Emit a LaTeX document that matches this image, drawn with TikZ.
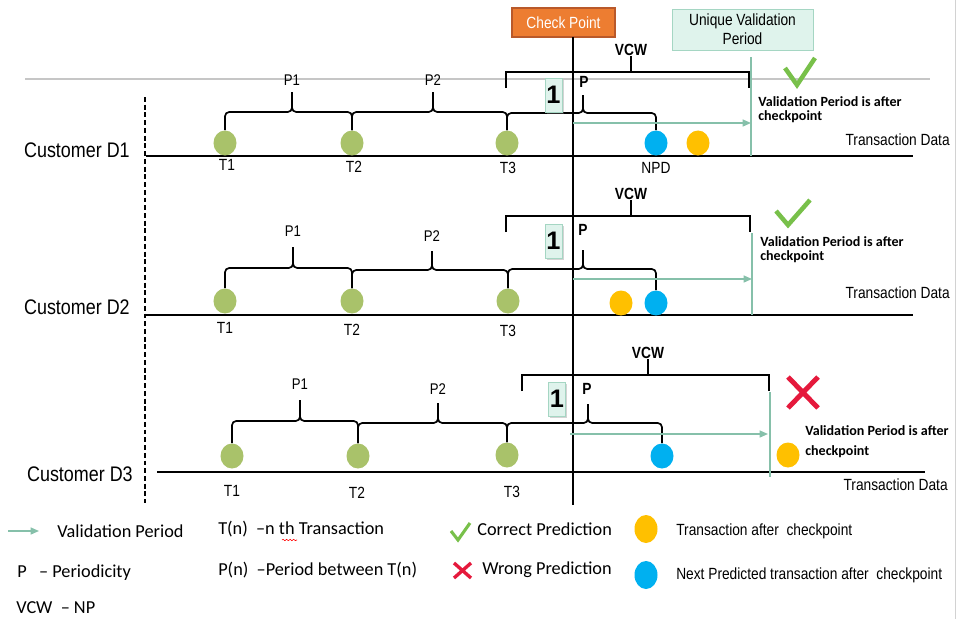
\documentclass[tikz,border=0pt]{standalone}
\usepackage{fontspec}
\setmainfont{Liberation Sans}
\newfontfamily\narrowsf[FakeStretch=0.85]{Liberation Sans}
\newfontfamily\legendsf{Carlito}
\usetikzlibrary{shapes.geometric,shadows,decorations.pathmorphing,arrows.meta}
\definecolor{olivegrn}{HTML}{A9C26A}
\definecolor{skyblu}{HTML}{00B0F0}
\definecolor{amber}{HTML}{FFC000}
\definecolor{cporange}{HTML}{ED7D31}
\definecolor{cpborder}{HTML}{B9592A}
\definecolor{vteal}{HTML}{86C0AA}
\definecolor{mint}{HTML}{DFF3EC}
\definecolor{mintline}{HTML}{A5D6C3}
\definecolor{okgreen}{HTML}{78C04A}
\definecolor{badred}{HTML}{E5193C}
\def\tbrace(#1)(#2)(#3:#4:#5){\draw[brc] (#1.north) |- (#4,#3) -- (#4,#5); \draw[brc] (#2.north) |- (#4,#3) -- (#4,#5);}
\def\vcwbracket(#1:#2:#3)(#4){\draw[vcwbar] (#1,#3+16) -- (#1,#3) -- (#2,#3) -- (#2,#3+16); \draw[vcwbar] (#4.south) -- (#4.south |- 0,#3);}

\begin{document}
\begin{tikzpicture}[x=0.025cm,y=-0.025cm,
	brc/.style={line width=1.2pt, rounded corners=3pt},
	axis/.style={line width=1.4pt},
	vcwbar/.style={line width=1.2pt},
	vline/.style={vteal, line width=1pt},
	vper/.style={vteal, line width=1pt, -{Triangle[length=6pt,width=5pt]}},
	tdot/.style={ellipse, inner sep=0pt, minimum width=0.575cm, minimum height=0.625cm},
	plbl/.style={font=\narrowsf\fontsize{11}{13}\selectfont, inner sep=0pt},
	tlbl/.style={font=\narrowsf\fontsize{11.5}{13}\selectfont, inner sep=0pt},
	blbl/.style={font=\narrowsf\bfseries\fontsize{11.5}{13}\selectfont, inner sep=0pt},
	cust/.style={font=\narrowsf\fontsize{15}{17}\selectfont, inner sep=0pt, anchor=east},
	tdata/.style={font=\narrowsf\fontsize{11.5}{13}\selectfont, inner sep=0pt, anchor=east},
	onebox/.style={draw=mintline, fill=mint, minimum width=0.425cm, minimum height=0.85cm, inner sep=0pt, font=\bfseries\fontsize{18}{18}\selectfont, drop shadow={opacity=0.35,shadow xshift=1.2pt,shadow yshift=-1.2pt}},
	note/.style={font=\legendsf\bfseries\fontsize{10}{10}\selectfont, align=left, anchor=west, inner sep=0pt},
	leg/.style={font=\legendsf\fontsize{13}{15}\selectfont, anchor=west, inner sep=0pt},
	legn/.style={font=\narrowsf\fontsize{11.5}{13}\selectfont, anchor=west, inner sep=0pt},
	ok/.style={okgreen, line width=3.2pt},
	bad/.style={badred, line width=3.5pt}]
				\useasboundingbox (0,0) rectangle (960,619);
				\draw[gray!35, line width=0.5pt] (955,0) -- (955,619);
				\draw[gray!45, line width=0.8pt] (25,79) -- (930,79);
				\draw[line width=1pt, dash pattern=on 3.5pt off 2pt] (145,97) -- (145,503);
				
				\node[draw=cpborder, line width=1.4pt, fill=cporange, text=white, minimum width=2.575cm, minimum height=0.725cm, inner sep=0pt, font=\narrowsf\fontsize{11.5}{13}\selectfont, drop shadow={opacity=0.3,shadow xshift=1pt,shadow yshift=-1pt}] (cp) at (563.5,22.5) {Check Point};
				\node[draw=mintline, fill=mint, minimum width=3.525cm, minimum height=1.025cm, inner sep=0pt, align=center, font=\narrowsf\fontsize{11.5}{13.5}\selectfont, drop shadow={opacity=0.25,shadow xshift=1pt,shadow yshift=-1pt}] (uvp) at (742.5,29.5) {Unique Validation\\Period};
				\draw[line width=1pt] (573,37) -- (573,505);
				
				\node[cust] (d1) at (130,150) {Customer D1};
				\draw[axis] (146,156) -- (913,156);
				\node[tdot, fill=olivegrn] (d1t1) at (225,143) {};
				\node[tdot, fill=olivegrn] (d1t2) at (352,143) {};
				\node[tdot, fill=olivegrn] (d1t3) at (507,143) {};
				\node[tdot, fill=skyblu] (d1np) at (656,143) {};
				\node[tdot, fill=amber] (d1ta) at (698,143) {};
				\node[tlbl] (d1l1) at (227,165) {T1};
				\node[tlbl] (d1l2) at (354,167) {T2};
				\node[tlbl] (d1l3) at (508,168) {T3};
				\node[tlbl] (d1l4) at (656,168) {NPD};
				\tbrace(d1t1)(d1t2)(112:292:92)
				\tbrace(d1t2)(d1t3)(112:433:92)
				\tbrace(d1t3)(d1np)(113:583:95)
				\node[plbl] (d1p1) at (292,80) {P1};
				\node[plbl] (d1p2) at (433,80) {P2};
				\node[blbl] (d1p) at (584,82) {P};
				\node[blbl, anchor=south] (d1vcw) at (631,56) {VCW};
				\vcwbracket(506:749:72)(d1vcw)
				\node[onebox] (d1one) at (553.5,95) {1};
				\draw[vline] (751,57) -- (751,156);
				\draw[vper] (573,123) -- (751,123);
				\draw[ok] (785,68) -- (797,85) -- (815,58);
				\node[note] (d1n) at (758,110) {Validation Period is after\\checkpoint};
				\node[tdata] (d1td) at (950,140) {Transaction Data};
				
				\node[cust] (d2) at (130,307) {Customer D2};
				\draw[axis] (146,315) -- (913,315);
				\node[tdot, fill=olivegrn] (d2t1) at (225,301) {};
				\node[tdot, fill=olivegrn] (d2t2) at (352,301) {};
				\node[tdot, fill=olivegrn] (d2t3) at (508,301) {};
				\node[tdot, fill=amber] (d2ta) at (621,303) {};
				\node[tdot, fill=skyblu] (d2np) at (656,303) {};
				\node[tlbl] (d2l1) at (225,328) {T1};
				\node[tlbl] (d2l2) at (352,330) {T2};
				\node[tlbl] (d2l3) at (508,331) {T3};
				\tbrace(d2t1)(d2t2)(268:293:247)
				\tbrace(d2t2)(d2t3)(270:432:251)
				\tbrace(d2t3)(d2np)(269:583:250)
				\node[plbl] (d2p1) at (293,231) {P1};
				\node[plbl] (d2p2) at (432,236) {P2};
				\node[blbl] (d2p) at (583,230) {P};
				\node[blbl, anchor=south] (d2vcw) at (631,200) {VCW};
				\vcwbracket(506:750:216)(d2vcw)
				\node[onebox] (d2one) at (553.5,241) {1};
				\draw[vline] (752,233) -- (752,315);
				\draw[vper] (573,279) -- (752,279);
				\draw[ok] (776,211) -- (788,225) -- (810,200);
				\node[note] (d2n) at (760,250) {Validation Period is after\\checkpoint};
				\node[tdata] (d2td) at (950,293) {Transaction Data};
				
				\node[cust] (d3) at (133,474) {Customer D3};
				\draw[axis] (157,472) -- (925,472);
				\node[tdot, fill=olivegrn] (d3t1) at (232,456) {};
				\node[tdot, fill=olivegrn] (d3t2) at (358,456) {};
				\node[tdot, fill=olivegrn] (d3t3) at (507,455) {};
				\node[tdot, fill=skyblu] (d3np) at (662,456) {};
				\node[tdot, fill=amber] (d3ta) at (788,455) {};
				\node[tlbl] (d3l1) at (232,491) {T1};
				\node[tlbl] (d3l2) at (357,493) {T2};
				\node[tlbl] (d3l3) at (512,492) {T3};
				\tbrace(d3t1)(d3t2)(421:300:400)
				\tbrace(d3t2)(d3t3)(423:438:403)
				\tbrace(d3t3)(d3np)(423:588:404)
				\node[plbl] (d3p1) at (300,384) {P1};
				\node[plbl] (d3p2) at (438,389) {P2};
				\node[blbl] (d3p) at (587,389) {P};
				\node[blbl, anchor=south] (d3vcw) at (648,359) {VCW};
				\vcwbracket(522:769:375)(d3vcw)
				\node[onebox] (d3one) at (557,399) {1};
				\draw[vline] (770,392) -- (770,477);
				\draw[vper] (570,434) -- (768,434);
				\draw[bad] (788,377) -- (818,408) (818,377) -- (788,408);
				\node[note, font=\legendsf\bfseries\fontsize{10}{14.2}\selectfont] (d3n) at (805,442) {Validation Period is after\\checkpoint};
				\node[tdata] (d3td) at (948,485) {Transaction Data};
				
				\draw[vper] (8,531) -- (39,531);
				\node[leg] (lg1) at (57,531) {Validation Period};
				\node[leg] (lg2) at (17,573) {P\ \ \ – Periodicity};
				\node[leg] (lg3) at (16,608) {VCW\ \ – NP};
				\node[leg] (lg4) at (218,529) {T(n)\ \ –n th Transaction};
				\draw[red, line width=0.4pt, decorate, decoration={snake, amplitude=0.5pt, segment length=2.5pt}] (282,540) -- (297,540);
				\node[leg] (lg5) at (218,570) {P(n)\ \ –Period between T(n)};
				\draw[okgreen, line width=2.2pt] (451,531) -- (458,540) -- (470,523);
				\node[leg] (lg6) at (477,529) {Correct Prediction};
				\draw[badred, line width=2.4pt] (454,563) -- (471,578) (471,563) -- (454,578);
				\node[leg] (lg7) at (482,570) {Wrong Prediction};
				\node[tdot, fill=amber, minimum height=0.7cm] (lg8) at (646,529) {};
				\node[legn] (lg8t) at (676,531) {Transaction after\ \ checkpoint};
				\node[tdot, fill=skyblu, minimum height=0.7cm] (lg9) at (646,575) {};
				\node[legn] (lg9t) at (676,575) {Next Predicted transaction after\ \ checkpoint};
			\end{tikzpicture}
\end{document}
